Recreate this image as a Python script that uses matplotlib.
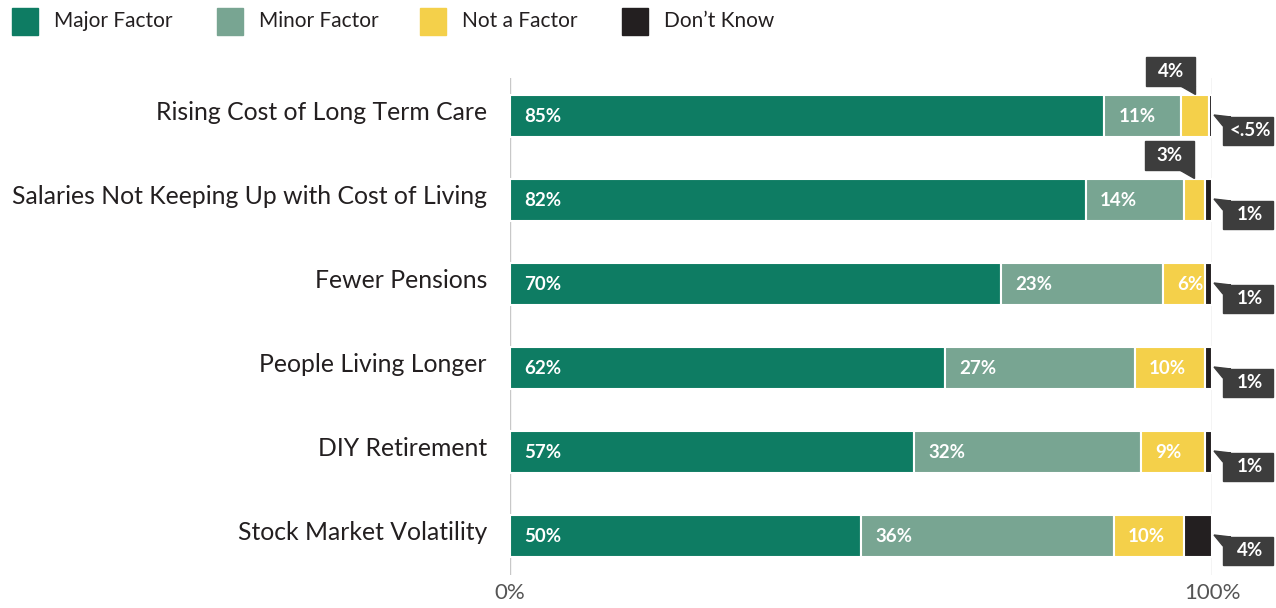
import matplotlib
matplotlib.use("Agg")
import matplotlib.pyplot as plt
from matplotlib.patches import Rectangle, Polygon

# ---------- data ----------
categories = ["Rising Cost of Long Term Care",
              "Salaries Not Keeping Up with Cost of Living",
              "Fewer Pensions",
              "People Living Longer",
              "DIY Retirement",
              "Stock Market Volatility"]
major = [85, 82, 70, 62, 57, 50]
minor = [11, 14, 23, 27, 32, 36]
not_factor = [4, 3, 6, 10, 9, 10]
dont_know = [0.4, 1, 1, 1, 1, 4]
dont_know_labels = ["<.5%", "1%", "1%", "1%", "1%", "4%"]
series_names = ["Major Factor", "Minor Factor", "Not a Factor", "Don\u2019t Know"]
tick_labels = ["0%", "100%"]

# ---------- style ----------
C_MAJOR, C_MINOR, C_NOT, C_DK = "#0e7c63", "#78a592", "#f4d04a", "#231f20"
C_BOX = "#3d3d3d"
plt.rcParams["font.family"] = ["Lato", "DejaVu Sans"]

W, H = 1276, 608
fig = plt.figure(figsize=(W / 100, H / 100), dpi=100)
ax = fig.add_axes([510 / W, 1 - 575 / H, (1212 - 510) / W, (575 - 78) / H])
ax.set_xlim(0, 100)
ax.set_ylim(5 + (575 - 536) / 84, -(116 - 78) / 84)
for s in ax.spines.values():
    s.set_visible(False)
ax.set_yticks([])
ax.set_xticks([0, 100])
ax.set_xticklabels(tick_labels, fontsize=16, color="#555555")
ax.tick_params(axis="x", length=0, pad=6)
ax.axvline(0, color="#c8c8c8", lw=1, zorder=0)
ax.axvline(100, color="#c8c8c8", lw=1, zorder=0)

PX = 100 / 702      # data units per pixel in x
PY = 1 / 84         # data units per pixel in y
bh = 42 * PY

ys = list(range(len(categories)))
series = [major, minor, not_factor, dont_know]
colors = [C_MAJOR, C_MINOR, C_NOT, C_DK]
# each row is scaled to fill 100%
totals = [sum(s[i] for s in series) for i in ys]
scaled = [[s[i] * 100 / totals[i] for i in ys] for s in series]

left = [0] * len(categories)
for vals, col in zip(scaled, colors):
    ax.barh(ys, vals, left=left, height=bh, color=col, edgecolor="white", lw=1.5, zorder=2)
    left = [l + v for l, v in zip(left, vals)]

# labels inside the bars
for i in ys:
    x0 = 0
    for k in range(3):
        v = series[k][i]
        if v >= 5:
            ax.text(x0 + 14 * PX, i, f"{v}%", color="white", fontsize=13.5,
                    fontweight="bold", va="center", ha="left", zorder=3)
        x0 += scaled[k][i]

# category labels
for i, c in enumerate(categories):
    ax.text(-23 * PX, i - 3 * PY, c, ha="right", va="center", fontsize=17.8, color="#231f20")

# callouts: small "not a factor" values above the bar
for i in ys:
    v = not_factor[i]
    if v < 5:
        tip_x = scaled[0][i] + scaled[1][i] + scaled[2][i] / 2
        top = i - 20 * PY
        tip_y = top - 2 * PY
        bx1 = tip_x
        bx0 = tip_x - 49 * PX
        by1 = tip_y - 8 * PY
        by0 = by1 - 29 * PY
        ax.add_patch(Rectangle((bx0, by0), bx1 - bx0, by1 - by0, color=C_BOX,
                               clip_on=False, zorder=4))
        ax.add_patch(Polygon([(bx1 - 14 * PX, by1), (bx1, by1), (tip_x, tip_y)],
                             color=C_BOX, clip_on=False, zorder=4))
        ax.text((bx0 + bx1) / 2, (by0 + by1) / 2, f"{v}%", color="white", fontsize=13.5,
                fontweight="bold", ha="center", va="center", zorder=5)

# callouts: don't know, to the right
for i in ys:
    tip_x = 100 + 2 * PX
    tip_y = i - 1 * PY
    bx0 = 100 + 11 * PX
    bx1 = 100 + 61 * PX
    by0 = i + 1 * PY
    by1 = i + 29 * PY
    ax.add_patch(Rectangle((bx0, by0), bx1 - bx0, by1 - by0, color=C_BOX,
                           clip_on=False, zorder=4))
    ax.add_patch(Polygon([(tip_x, tip_y), (bx0 + 8 * PX, by0), (bx0, by0), (bx0, by0 + 9 * PY)],
                         color=C_BOX, clip_on=False, zorder=4))
    ax.text((bx0 + bx1) / 2 + 2 * PX, (by0 + by1) / 2, dont_know_labels[i], color="white",
            fontsize=13.5, fontweight="bold", ha="center", va="center", zorder=5)

# legend at top
leg_x = [12, 217, 420, 622]
for x, name, col in zip(leg_x, series_names, colors):
    fig.add_artist(Rectangle((x / W, 1 - 35 / H), 26 / W, 27 / H, color=col,
                             transform=fig.transFigure))
    fig.text((x + 42) / W, 1 - 21 / H, name, fontsize=15, color="#231f20",
             va="center", ha="left")

fig.savefig("out.png", dpi=100)
